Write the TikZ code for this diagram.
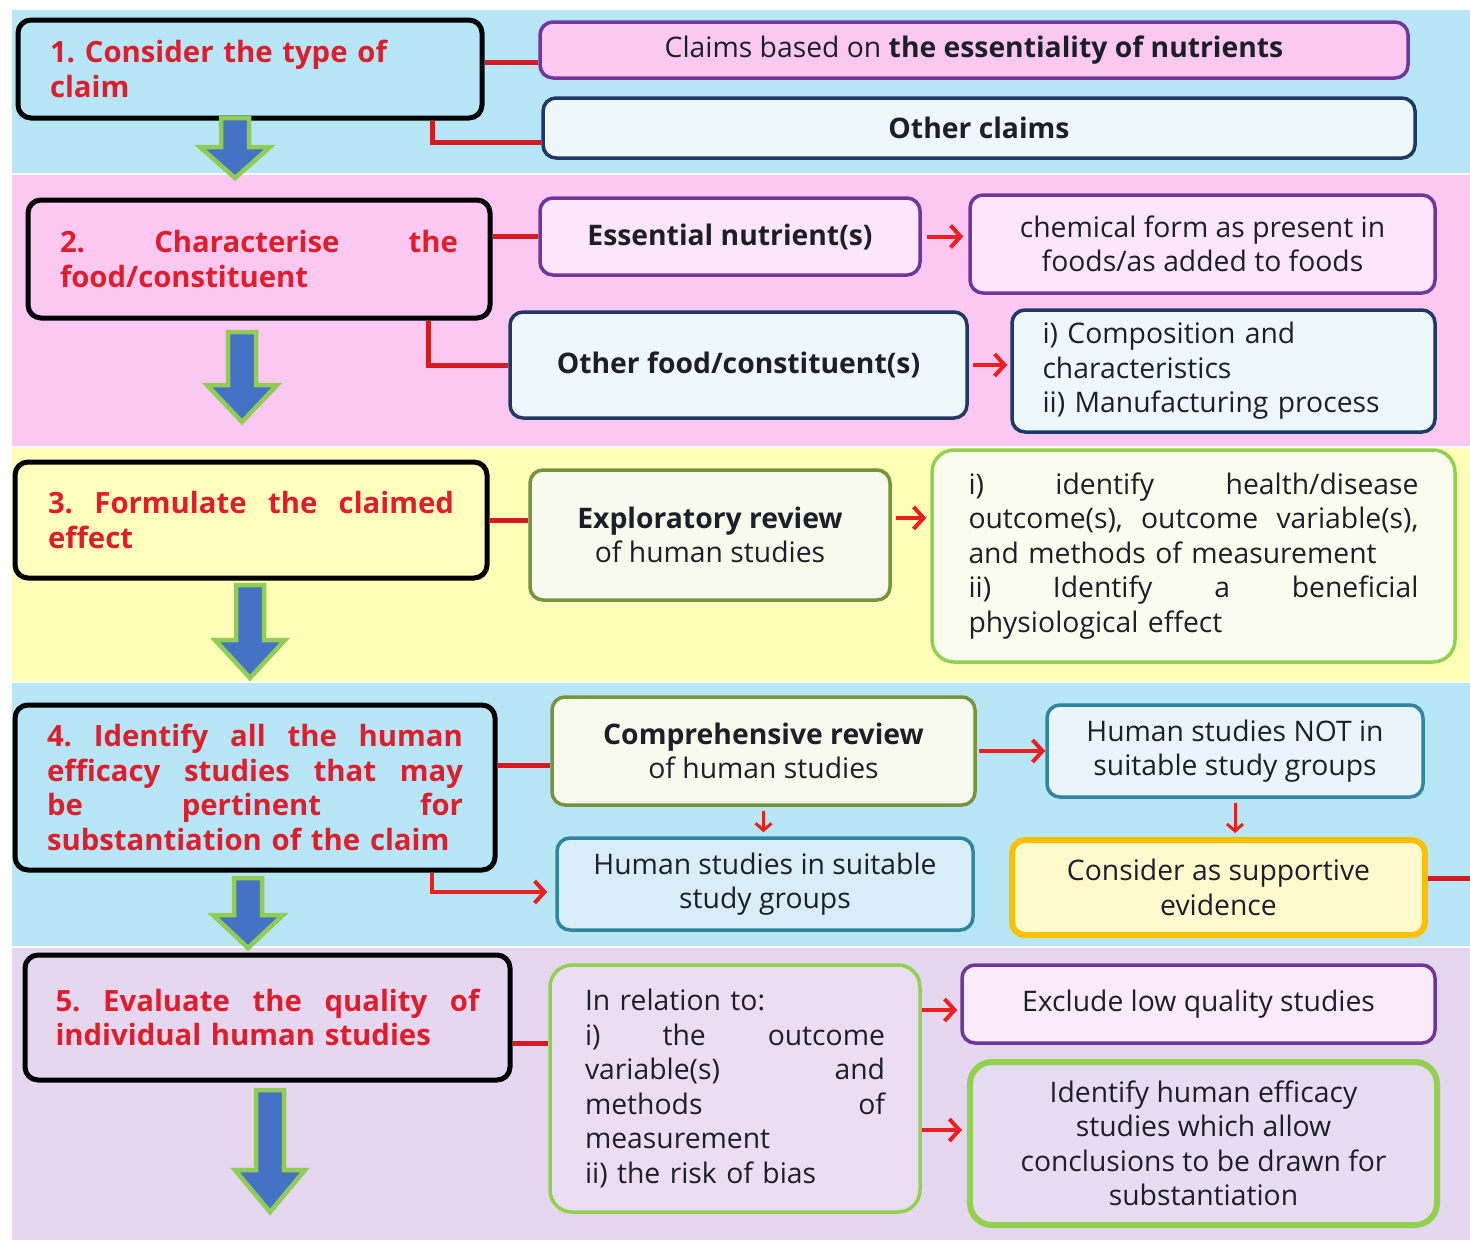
\documentclass[tikz,border=0pt]{standalone}
\usepackage{fontspec}
\setmainfont{Open Sans}
\usetikzlibrary{arrows.meta}
\frenchspacing

\definecolor{bandblue}{RGB}{183,230,247}
\definecolor{bandpink}{RGB}{250,200,240}
\definecolor{bandyellow}{RGB}{255,255,185}
\definecolor{bandlav}{RGB}{229,215,240}
\definecolor{titlered}{RGB}{222,30,45}
\definecolor{linkred}{RGB}{215,25,35}
\definecolor{arrred}{RGB}{240,30,30}
\definecolor{bodytext}{RGB}{30,30,40}
\definecolor{edgepurple}{RGB}{112,55,155}
\definecolor{edgenavy}{RGB}{31,56,100}
\definecolor{edgeolive}{RGB}{119,147,60}
\definecolor{edgegreen}{RGB}{146,208,80}
\definecolor{edgeteal}{RGB}{49,133,156}
\definecolor{edgegold}{RGB}{255,192,0}
\definecolor{flowblue}{RGB}{68,114,196}
\definecolor{flowgreen}{RGB}{145,205,85}

\tikzset{
  box/.style={draw, rounded corners=13pt, line width=3.5pt, inner sep=0pt,
    text=bodytext, align=center, font=\fontsize{28.3}{34.5}\selectfont},
  stepbox/.style={box, draw=black, line width=5pt, align=left, text=titlered,
    font=\bfseries\fontsize{29.3}{34.5}\selectfont},
  link/.style={draw=linkred, line width=5pt},
  arr/.style={draw=arrred, line width=4pt, -{Straight Barb[length=10pt,width=22pt]}},
  flow/.style={fill=flowblue, draw=flowgreen, line width=4.5pt, line join=miter},
}

% downward block arrow: centre x, top y, head start y, tip y
\newcommand\flowarrow[4]{%
  \filldraw[flow] (#1-14,#2) -- (#1+14,#2) -- (#1+14,#3) -- (#1+35,#3)
    -- (#1,#4) -- (#1-35,#3) -- (#1-14,#3) -- cycle;}

\begin{document}
\begin{tikzpicture}[x=1pt,y=-1pt]
\useasboundingbox (0,0) rectangle (1470,1245);
\fill[white] (0,0) rectangle (1470,1245);

% background bands
\fill[bandblue]   (12,10)  rectangle (1470,173);
\fill[bandpink]   (12,175) rectangle (1470,446);
\fill[bandyellow] (12,448) rectangle (1470,681);
\fill[bandblue]   (12,683) rectangle (1470,946);
\fill[bandlav]    (12,948) rectangle (1470,1240);

% ---- step 1 ----
\node[stepbox, fill=bandblue, minimum width=464, minimum height=98, text width=400]
  (s1) at (250,69) {1. Consider the type of\\claim};
\node[box, draw=edgepurple, fill=bandpink, minimum width=868, minimum height=56]
  (claims) at (974,50) {Claims based on \textbf{the essentiality of nutrients}};
\node[box, draw=edgenavy, fill={rgb,255:red,238;green,247;blue,252}, minimum width=872, minimum height=60]
  (other) at (979,128) {\textbf{Other claims}};
\draw[link] ([yshift=7pt]s1.east) -- ([yshift=7pt]s1.east -| claims.west);
\draw[link] ([xshift=182pt]s1.south) |- ([yshift=-14pt]other.west);

% ---- step 2 ----
\node[stepbox, fill=bandpink, minimum width=462, minimum height=118, text width=398]
  (s2) at (259,259) {2.\hfill Characterise\hfill the\\food/constituent};
\node[box, draw=edgepurple, fill={rgb,255:red,252;green,230;blue,250}, minimum width=380, minimum height=77]
  (ess) at (730,236.5) {\textbf{Essential nutrient(s)}};
\node[box, draw=edgepurple, fill={rgb,255:red,252;green,230;blue,250}, minimum width=465, minimum height=98]
  (chem) at (1202.5,244) {chemical form as present in\\foods/as added to foods};
\node[box, draw=edgenavy, fill={rgb,255:red,238;green,247;blue,252}, minimum width=457, minimum height=106]
  (ofood) at (738.5,365) {\textbf{Other food/constituent(s)}};
\node[box, draw=edgenavy, fill={rgb,255:red,238;green,247;blue,252}, minimum width=423, minimum height=122,
  text width=362, align=left]
  (comp) at (1223.5,371) {i) Composition and\\characteristics\\ii) Manufacturing process};
\draw[link] (ess.west -| s2.east) -- (ess.west);
\draw[arr, shorten <=5pt, shorten >=5pt] (ess.east) -- (ess.east -| chem.west);
\draw[link] ([xshift=169pt]s2.south) |- (ofood.west);
\draw[arr, shorten <=4pt, shorten >=3pt] (ofood.east) -- (ofood.east -| comp.west);

% ---- step 3 ----
\node[stepbox, fill={rgb,255:red,255;green,255;blue,190}, minimum width=472, minimum height=116, text width=406]
  (s3) at (251,520) {3.\hfill Formulate\hfill the\hfill claimed\\effect};
\node[box, draw=edgeolive, fill={rgb,255:red,248;green,250;blue,238}, minimum width=360, minimum height=130]
  (expl) at (710,535) {\textbf{Exploratory review}\\of human studies};
\node[box, draw=edgegreen, fill={rgb,255:red,250;green,252;blue,238}, minimum width=523, minimum height=212,
  text width=450, align=left, rounded corners=22pt]
  (ident) at (1193.5,556) {i)\hfill identify\hfill health/disease\\
    outcome(s),\hfill outcome\hfill variable(s),\\
    and methods of measurement\\
    ii)\hfill Identify\hfill a\hfill beneficial\\
    physiological effect};
\draw[link] (s3.east) -- (s3.east -| expl.west);
\draw[arr, shorten <=4pt, shorten >=4pt] ([yshift=17pt]expl.east) -- ([yshift=17pt]expl.east -| ident.west);

% ---- step 4 ----
\node[stepbox, fill=bandblue, minimum width=480, minimum height=165, text width=416]
  (s4) at (255,787.5) {4.\hfill Identify\hfill all\hfill the\hfill human\\
    efficacy\hfill studies\hfill that\hfill may\\
    be\hfill pertinent\hfill for\\
    substantiation of the claim};
\node[box, draw=edgeolive, fill={rgb,255:red,248;green,250;blue,238}, minimum width=423, minimum height=108]
  (compr) at (763.5,751) {\textbf{Comprehensive review}\\of human studies};
\node[box, draw=edgeteal, fill={rgb,255:red,232;green,246;blue,252}, minimum width=376, minimum height=92]
  (notbox) at (1235,751) {Human studies NOT in\\suitable study groups};
\node[box, draw=edgeteal, fill={rgb,255:red,215;green,238;blue,248}, minimum width=416, minimum height=92]
  (suit) at (765,884) {Human studies in suitable\\study groups};
\node[box, draw=edgegold, line width=6pt, fill={rgb,255:red,255;green,250;blue,205}, minimum width=413, minimum height=95]
  (cons) at (1218.5,887.5) {Consider as supportive\\evidence};
\coordinate (rimedge) at (1470,878);
\draw[link] ([yshift=22.5pt]s4.east) -- ([yshift=22.5pt]s4.east -| compr.west);
\draw[arr, shorten <=2pt] (compr.east) -- (notbox.west);
\draw[arr, line width=3pt, -{Straight Barb[length=7pt,width=16pt]}, shorten <=4pt, shorten >=4pt]
  (compr.south) -- (compr.south |- suit.north);
\draw[arr, line width=3pt, -{Straight Barb[length=7pt,width=16pt]}, shorten <=4pt, shorten >=4pt]
  (notbox.south) -- (notbox.south |- cons.north);
\draw[arr, shorten >=8pt] ([xshift=177pt]s4.south) |- ([yshift=-8pt]suit.west);
\draw[link] ([yshift=9.5pt]cons.east) -- ([yshift=9.5pt]cons.east -| rimedge);

% ---- step 5 ----
\node[stepbox, fill=bandlav, minimum width=485, minimum height=125, text width=424]
  (s5) at (267.5,1017.5) {5.\hfill Evaluate\hfill the\hfill quality\hfill of\\individual human studies};
\node[box, draw=edgegreen, fill={rgb,255:red,235;green,222;blue,242}, minimum width=370, minimum height=247,
  text width=300, align=left, rounded corners=22pt]
  (rel) at (735,1088.5) {In relation to:\\
    i)\hfill the\hfill outcome\\
    variable(s)\hfill and\\
    methods\hfill of\\
    measurement\\
    ii) the risk of bias};
\node[box, draw=edgepurple, fill={rgb,255:red,250;green,235;blue,250}, minimum width=473, minimum height=78]
  (excl) at (1198.5,1004) {Exclude low quality studies};
\node[box, draw=edgegreen, line width=6pt, fill={rgb,255:red,232;green,220;blue,242}, minimum width=467, minimum height=163,
  rounded corners=22pt]
  (idh) at (1203.5,1143.5) {Identify human efficacy\\studies which allow\\conclusions to be drawn for\\substantiation};
\draw[link] ([yshift=-25.5pt]s5.east) -- ([yshift=-25.5pt]s5.east -| rel.west);
\draw[arr, shorten >=3pt] ([yshift=-6pt]rel.east |- excl.west) -- ([yshift=-6pt]excl.west);
\draw[arr, shorten >=5pt] ([yshift=13.5pt]rel.east |- idh.west) -- ([yshift=13.5pt]idh.west);

% ---- flow arrows between steps ----
\flowarrow{235}{118}{147}{178}
\flowarrow{242}{332}{385}{422}
\flowarrow{250}{585}{640}{678}
\flowarrow{248}{878}{915}{948}
\flowarrow{270}{1090}{1170}{1212}

\end{tikzpicture}
\end{document}
